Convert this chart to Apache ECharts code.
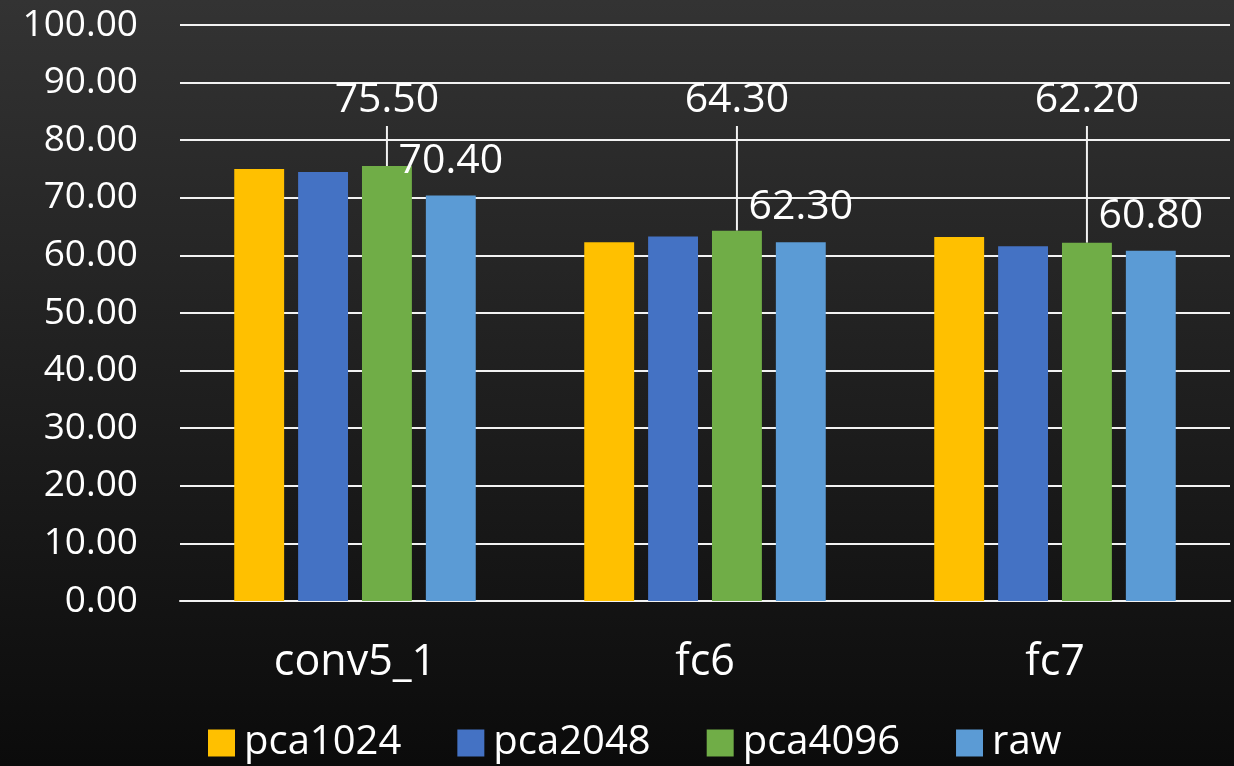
<!DOCTYPE html>
<html>
<head>
<meta charset="utf-8">
<script src="https://cdn.jsdelivr.net/npm/echarts@6/dist/echarts.min.js"></script>
<style>
  html, body { margin: 0; padding: 0; }
  #chart { width: 1234px; height: 766px; }
</style>
</head>
<body>
<div id="chart"></div>
<script>
// 分类与数据
const categories = ['conv5_1', 'fc6', 'fc7']
const seriesNames = ['pca1024', 'pca2048', 'pca4096', 'raw']
const pca1024 = [75.0, 62.3, 63.2]
const pca2048 = [74.5, 63.3, 61.6]
const pca4096 = [75.5, 64.3, 62.2]
const raw = [70.4, 62.3, 60.8]
const colors = ['#FFC000', '#4472C4', '#70AD47', '#5B9BD5']

const font = 'Open Sans'

let calloutLabel = {
  show: true,
  position: 'top',
  color: '#fff',
  fontFamily: font,
  fontSize: 41,
  lineHeight: 44,
  padding: [0, 0, 8, 0],
  formatter: p => p.value.toFixed(2)
}

let topLabel = {
  show: true,
  position: 'top',
  distance: 14,
  color: '#fff',
  fontFamily: font,
  fontSize: 41,
  formatter: p => p.value.toFixed(2)
}

const chart = echarts.init(document.getElementById('chart'))
chart.setOption({
  color: colors,
  backgroundColor: {
    type: 'linear', x: 0, y: 0, x2: 0, y2: 1,
    colorStops: [
      { offset: 0, color: '#333333' },
      { offset: 1, color: '#0b0b0b' }
    ]
  },
  animation: false,
  grid: {
    left: 180,
    right: 4,
    top: 25,
    bottom: 165,
    containLabel: false
  },
  legend: {
    left: 203,
    top: 718,
    itemWidth: 27,
    itemHeight: 27,
    itemGap: 56,
    icon: 'rect',
    data: seriesNames,
    textStyle: {
      color: '#fff',
      fontFamily: font,
      fontSize: 40,
      lineHeight: 40,
      padding: [0, 0, 0, 4]
    }
  },
  xAxis: {
    type: 'category',
    data: categories,
    axisTick: { show: false },
    axisLine: { show: true, lineStyle: { color: '#f2f2f2', width: 2 } },
    axisLabel: {
      color: '#fff',
      fontFamily: font,
      fontSize: 43,
      margin: 40
    }
  },
  yAxis: {
    type: 'value',
    min: 0,
    max: 100,
    interval: 10,
    axisLine: { show: false },
    axisTick: { show: false },
    splitLine: { lineStyle: { color: '#f2f2f2', width: 2 } },
    axisLabel: {
      color: '#fff',
      fontFamily: font,
      fontSize: 37,
      margin: 42,
      formatter: v => v.toFixed(2)
    }
  },
  series: [
    {
      name: seriesNames[0],
      type: 'bar',
      data: pca1024,
      barGap: '28%',
      barCategoryGap: '31%'
    },
    {
      name: seriesNames[1],
      type: 'bar',
      data: pca2048
    },
    {
      name: seriesNames[2],
      type: 'bar',
      data: pca4096,
      label: calloutLabel,
      // 标签统一移到上方，用引导线连到柱顶
      labelLayout: params => ({
        x: params.rect.x + params.rect.width / 2,
        y: 100,
        align: 'center',
        verticalAlign: 'middle'
      }),
      labelLine: {
        show: true,
        length2: 0,
        smooth: false,
        lineStyle: { color: '#f2f2f2', width: 2 }
      }
    },
    {
      name: seriesNames[3],
      type: 'bar',
      data: raw,
      label: topLabel
    }
  ]
})
</script>
</body>
</html>
